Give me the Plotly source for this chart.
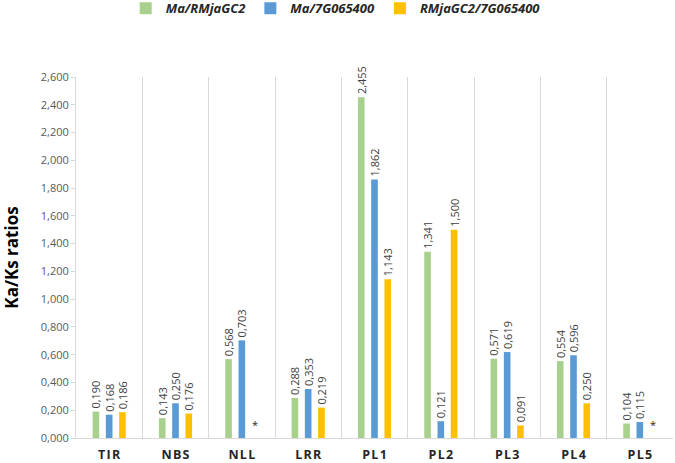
import plotly.graph_objects as go

# Ka/Ks ratios per domain
domains = ["TIR", "NBS", "NLL", "LRR", "PL1", "PL2", "PL3", "PL4", "PL5"]
ma_rmjagc2 = [0.190, 0.143, 0.568, 0.288, 2.455, 1.341, 0.571, 0.554, 0.104]
ma_7g = [0.168, 0.250, 0.703, 0.353, 1.862, 0.121, 0.619, 0.596, 0.115]
rmjagc2_7g = [0.186, 0.176, None, 0.219, 1.143, 1.500, 0.091, 0.250, None]
y_ticks = [i * 0.2 for i in range(14)]

series = [
    ("Ma/RMjaGC2", ma_rmjagc2, "#A9D18E"),
    ("Ma/7G065400", ma_7g, "#5B9BD5"),
    ("RMjaGC2/7G065400", rmjagc2_7g, "#FFC000"),
]

# letter-spaced, bold category labels like the original
labels = ["<b>" + "\u200a".join(d) + "</b>" for d in domains]

fig = go.Figure()
for name, vals, color in series:
    fig.add_trace(go.Bar(
        x=labels,
        y=vals,
        name="<b><i>" + name + "</i></b>",
        marker=dict(color=color, line=dict(width=0)),
        texttemplate="%{y:.3f}",
        textposition="outside",
        textangle=-90,
        constraintext="none",
        textfont=dict(size=11, color="#404040", family="Open Sans"),
        cliponaxis=False,
    ))

# asterisk where no value exists
for lab, v in zip(labels, rmjagc2_7g):
    if v is None:
        fig.add_annotation(
            x=lab, y=0, xref="x", yref="y",
            text="*", showarrow=False,
            xshift=13, yshift=4, yanchor="bottom",
            font=dict(size=11, color="#262626", family="Open Sans"),
        )

fig.update_layout(
    width=675,
    height=463,
    margin=dict(l=76, r=2, t=77, b=25, autoexpand=False),
    plot_bgcolor="white",
    paper_bgcolor="white",
    separators=",.",
    barmode="group",
    bargap=0.4,
    bargroupgap=0.5,
    font=dict(family="Open Sans", color="#404040"),
    legend=dict(
        orientation="h",
        x=0.435, xanchor="center",
        y=1.19, yanchor="middle",
        font=dict(size=13, color="#262626"),
        itemwidth=30,
        traceorder="normal",
    ),
    showlegend=True,
)

fig.update_xaxes(
    type="category",
    tickson="boundaries",
    showgrid=True,
    gridcolor="#D9D9D9",
    gridwidth=1,
    showline=True,
    linecolor="#D9D9D9",
    ticks="",
    tickangle=0,
    tickfont=dict(size=12.5, color="#262626", family="Open Sans"),
    ticklabelstandoff=5,
    automargin=False,
)
fig.update_yaxes(
    range=[0, 2.6],
    tickvals=y_ticks,
    tickformat=".3f",
    showgrid=False,
    showline=True,
    linecolor="#D9D9D9",
    ticks="outside",
    ticklen=4,
    tickcolor="#D9D9D9",
    tickfont=dict(size=11, color="#595959"),
    title=dict(text="<b>Ka/Ks ratios</b>", font=dict(size=17, color="#000000"), standoff=18),
    zeroline=False,
    automargin=False,
)

fig.write_html("out.html", config={"displayModeBar": False},
               post_script="document.body.style.margin='0px';")
